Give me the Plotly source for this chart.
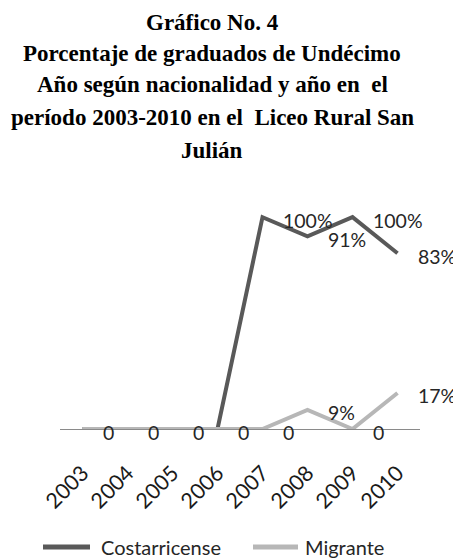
import plotly.graph_objects as go

years = ["2003", "2004", "2005", "2006", "2007", "2008", "2009", "2010"]
costarricense = [0, 0, 0, 0, 100, 91, 100, 83]
migrante = [0, 0, 0, 0, 0, 9, 0, 17]
series_names = ["Costarricense", "Migrante"]
title_lines = [
    "Gráfico No. 4",
    "Porcentaje de graduados de Undécimo",
    "Año según nacionalidad y año en  el",
    "período 2003-2010 en el  Liceo Rural San",
    "Julián",
]

# page body has an 8px margin; work in reference pixels and shift by OFF
OFF = 8
W, H = 461 - OFF, 558 - OFF
ML, MR, MT, MB = 60 - OFF, 41, 196 - OFF, 129
PW, PH = W - ML - MR, H - MT - MB

DARK = "#595959"
LIGHT = "#b7b7b7"
LABEL_FONT = dict(family="Lato, Calibri, sans-serif", size=19.5, color="#262626")


def px_x(px):
    return (px - OFF - ML) / PW


def px_y(py):
    return (H - MB - (py - OFF)) / PH


fig = go.Figure()
fig.add_trace(go.Scatter(x=years, y=costarricense, mode="lines", name=series_names[0],
                         line=dict(color=DARK, width=4), cliponaxis=False, showlegend=False))
fig.add_trace(go.Scatter(x=years, y=migrante, mode="lines", name=series_names[1],
                         line=dict(color=LIGHT, width=4), cliponaxis=False, showlegend=False))

annotations = []


def fmt(v):
    return "0" if v == 0 else f"{v}%"


for i, v in enumerate(migrante):
    annotations.append(dict(x=i, y=v, xref="x", yref="y", text=fmt(v), showarrow=False,
                            xanchor="left", yanchor="middle", xshift=18, yshift=-3,
                            font=LABEL_FONT))
for i, v in enumerate(costarricense):
    if v != 0:
        annotations.append(dict(x=i, y=v, xref="x", yref="y", text=fmt(v), showarrow=False,
                                xanchor="left", yanchor="middle", xshift=18, yshift=-3,
                                font=LABEL_FONT))

# title lines
title_y = [22, 53, 85, 117, 150]
for txt, py in zip(title_lines, title_y):
    annotations.append(dict(x=px_x(212), y=px_y(py), xref="paper", yref="paper", text=f"<b>{txt}</b>",
                            showarrow=False, xanchor="center", yanchor="middle",
                            font=dict(family="Liberation Serif, Times New Roman, serif", size=23, color="#000000")))

# legend (manual)
shapes = []
legend_items = [(series_names[0], DARK, 43, 90, 99), (series_names[1], LIGHT, 253, 298, 303)]
for name, col, x0, x1, tx in legend_items:
    shapes.append(dict(type="line", xref="paper", yref="paper", x0=px_x(x0), x1=px_x(x1),
                       y0=px_y(547), y1=px_y(547), line=dict(color=col, width=5)))
    annotations.append(dict(x=px_x(tx), y=px_y(547), xref="paper", yref="paper", text=name,
                            showarrow=False, xanchor="left", yanchor="middle",
                            font=dict(family="Lato, Calibri, sans-serif", size=20, color="#262626")))

fig.update_layout(
    width=W, height=H,
    margin=dict(l=ML, r=MR, t=MT, b=MB, pad=0),
    paper_bgcolor="white", plot_bgcolor="white",
    showlegend=False,
    annotations=annotations,
    shapes=shapes,
    xaxis=dict(type="category", range=[-0.5, 7.5], showgrid=False, zeroline=False,
               showline=True, linecolor="#8a8a8a", linewidth=1, ticks="",
               tickangle=-45, tickfont=dict(family="Lato, Calibri, sans-serif", size=21.5, color="#1a1a1a"),
               ticklabelstandoff=22),
    yaxis=dict(range=[0, 110], visible=False, showgrid=False, zeroline=False),
)

fig.write_html("out.html")
